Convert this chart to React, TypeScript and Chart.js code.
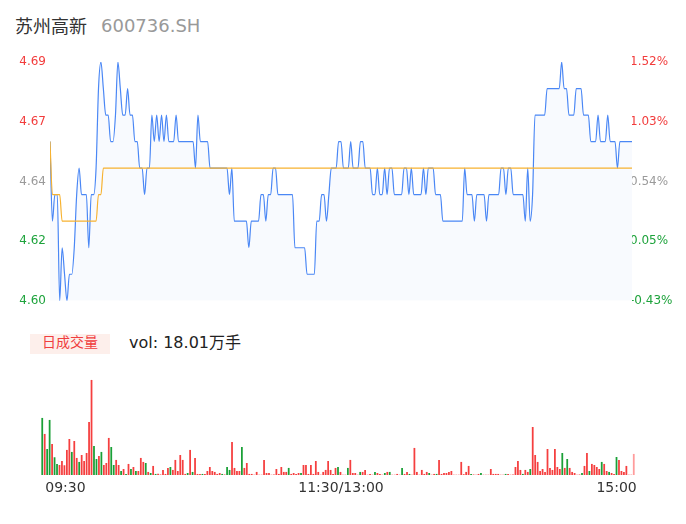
import React, { useEffect, useRef } from 'react';
import { Chart, registerables } from 'chart.js';

Chart.register(...registerables);

// ---------- data ----------
const stockName = '苏州高新';
const stockCode = '600736.SH';
const volTitle = '日成交量';
const volSummary = 'vol: 18.01万手';

const timeLabels = ['09:30', '11:30/13:00', '15:00'];
const timeTickIdx = [0, 120, 240];

const priceTicks = [4.6, 4.6225, 4.645, 4.6675, 4.69];
const priceTickLabels = ['4.60', '4.62', '4.64', '4.67', '4.69'];
const pctTickLabels = ['-0.43%', '0.05%', '0.54%', '1.03%', '1.52%'];

const price = [
  4.66, 4.63, 4.64, 4.64, 4.60, 4.62, 4.61, 4.60, 4.61, 4.61,
  4.62, 4.64, 4.65, 4.64, 4.64, 4.64, 4.62, 4.64, 4.64, 4.65,
  4.68, 4.69, 4.68, 4.67, 4.67, 4.66, 4.66, 4.67, 4.69, 4.68,
  4.67, 4.67, 4.68, 4.67, 4.67, 4.66, 4.66, 4.65, 4.65, 4.64,
  4.65, 4.65, 4.67, 4.66, 4.67, 4.66, 4.67, 4.66, 4.67, 4.66,
  4.66, 4.66, 4.67, 4.66, 4.66, 4.66, 4.66, 4.66, 4.66, 4.66,
  4.65, 4.67, 4.66, 4.66, 4.66, 4.66, 4.65, 4.65, 4.65, 4.65,
  4.65, 4.65, 4.65, 4.65, 4.64, 4.65, 4.63, 4.63, 4.63, 4.63,
  4.63, 4.63, 4.62, 4.63, 4.63, 4.63, 4.63, 4.64, 4.64, 4.63,
  4.64, 4.64, 4.65, 4.65, 4.64, 4.64, 4.64, 4.64, 4.64, 4.64,
  4.64, 4.62, 4.62, 4.62, 4.62, 4.62, 4.61, 4.61, 4.61, 4.61,
  4.63, 4.63, 4.64, 4.64, 4.63, 4.64, 4.65, 4.65, 4.65, 4.66,
  4.66, 4.65, 4.65, 4.65, 4.66, 4.65, 4.65, 4.65, 4.66, 4.66,
  4.65, 4.65, 4.65, 4.64, 4.64, 4.65, 4.64, 4.64, 4.65, 4.64,
  4.65, 4.65, 4.64, 4.64, 4.64, 4.64, 4.65, 4.65, 4.64, 4.65,
  4.64, 4.64, 4.64, 4.64, 4.65, 4.64, 4.65, 4.65, 4.65, 4.64,
  4.64, 4.64, 4.63, 4.63, 4.63, 4.63, 4.63, 4.63, 4.63, 4.63,
  4.63, 4.65, 4.64, 4.64, 4.64, 4.63, 4.64, 4.64, 4.64, 4.64,
  4.63, 4.64, 4.64, 4.64, 4.64, 4.64, 4.65, 4.65, 4.64, 4.65,
  4.65, 4.64, 4.64, 4.64, 4.64, 4.64, 4.63, 4.65, 4.63, 4.64,
  4.67, 4.67, 4.67, 4.67, 4.67, 4.68, 4.68, 4.68, 4.68, 4.68,
  4.68, 4.69, 4.68, 4.68, 4.67, 4.67, 4.67, 4.68, 4.68, 4.68,
  4.67, 4.67, 4.67, 4.66, 4.66, 4.66, 4.67, 4.66, 4.66, 4.66,
  4.67, 4.66, 4.66, 4.66, 4.65, 4.66, 4.66, 4.66, 4.66, 4.66,
  4.66,
];

const avgPrice = [
  4.66, 4.64, 4.64, 4.64, 4.64, 4.63, 4.63, 4.63, 4.63, 4.63,
  4.63, 4.63, 4.63, 4.63, 4.63, 4.63, 4.63, 4.63, 4.63, 4.63,
  4.64, 4.64, 4.65, 4.65, 4.65, 4.65, 4.65, 4.65, 4.65, 4.65,
  4.65, 4.65, 4.65, 4.65, 4.65, 4.65, 4.65, 4.65, 4.65, 4.65,
  4.65, 4.65, 4.65, 4.65, 4.65, 4.65, 4.65, 4.65, 4.65, 4.65,
  4.65, 4.65, 4.65, 4.65, 4.65, 4.65, 4.65, 4.65, 4.65, 4.65,
  4.65, 4.65, 4.65, 4.65, 4.65, 4.65, 4.65, 4.65, 4.65, 4.65,
  4.65, 4.65, 4.65, 4.65, 4.65, 4.65, 4.65, 4.65, 4.65, 4.65,
  4.65, 4.65, 4.65, 4.65, 4.65, 4.65, 4.65, 4.65, 4.65, 4.65,
  4.65, 4.65, 4.65, 4.65, 4.65, 4.65, 4.65, 4.65, 4.65, 4.65,
  4.65, 4.65, 4.65, 4.65, 4.65, 4.65, 4.65, 4.65, 4.65, 4.65,
  4.65, 4.65, 4.65, 4.65, 4.65, 4.65, 4.65, 4.65, 4.65, 4.65,
  4.65, 4.65, 4.65, 4.65, 4.65, 4.65, 4.65, 4.65, 4.65, 4.65,
  4.65, 4.65, 4.65, 4.65, 4.65, 4.65, 4.65, 4.65, 4.65, 4.65,
  4.65, 4.65, 4.65, 4.65, 4.65, 4.65, 4.65, 4.65, 4.65, 4.65,
  4.65, 4.65, 4.65, 4.65, 4.65, 4.65, 4.65, 4.65, 4.65, 4.65,
  4.65, 4.65, 4.65, 4.65, 4.65, 4.65, 4.65, 4.65, 4.65, 4.65,
  4.65, 4.65, 4.65, 4.65, 4.65, 4.65, 4.65, 4.65, 4.65, 4.65,
  4.65, 4.65, 4.65, 4.65, 4.65, 4.65, 4.65, 4.65, 4.65, 4.65,
  4.65, 4.65, 4.65, 4.65, 4.65, 4.65, 4.65, 4.65, 4.65, 4.65,
  4.65, 4.65, 4.65, 4.65, 4.65, 4.65, 4.65, 4.65, 4.65, 4.65,
  4.65, 4.65, 4.65, 4.65, 4.65, 4.65, 4.65, 4.65, 4.65, 4.65,
  4.65, 4.65, 4.65, 4.65, 4.65, 4.65, 4.65, 4.65, 4.65, 4.65,
  4.65, 4.65, 4.65, 4.65, 4.65, 4.65, 4.65, 4.65, 4.65, 4.65,
  4.65,
];

// volume per minute, in 手
const volume = [
  4280, 3080, 1950, 4130, 2330, 1330, 830, 750, 1050, 730,
  1880, 2700, 1730, 2550, 1280, 980, 1500, 1050, 1650, 3980,
  7130, 2180, 1200, 1430, 1730, 750, 900, 2780, 2100, 750,
  1130, 750, 300, 450, 80, 830, 450, 600, 300, 300,
  1280, 980, 900, 230, 150, 680, 80, 100, 40, 380,
  80, 530, 600, 380, 1130, 300, 1500, 1130, 80, 150,
  1880, 230, 1280, 80, 80, 80, 80, 300, 600, 300,
  230, 80, 150, 80, 40, 600, 380, 2480, 530, 300,
  300, 2100, 530, 900, 80, 80, 20, 230, 20, 20,
  1130, 150, 150, 20, 40, 450, 80, 600, 230, 230,
  530, 80, 150, 80, 150, 150, 750, 750, 80, 750,
  80, 1050, 230, 20, 230, 380, 1050, 380, 80, 530,
  600, 230, 20, 20, 530, 1130, 150, 150, 20, 230,
  230, 380, 20, 80, 20, 230, 150, 80, 20, 150,
  230, 230, 20, 20, 80, 20, 530, 80, 230, 80,
  20, 2030, 230, 20, 380, 80, 230, 150, 20, 80,
  80, 1130, 80, 150, 150, 230, 300, 20, 20, 20,
  980, 60, 230, 680, 80, 40, 20, 80, 150, 20,
  20, 20, 450, 80, 80, 80, 20, 20, 80, 80,
  20, 40, 600, 1050, 380, 80, 380, 230, 450, 3600,
  1500, 980, 300, 450, 230, 1950, 530, 380, 1950, 600,
  450, 1650, 530, 1200, 530, 230, 150, 20, 40, 150,
  680, 1650, 300, 830, 750, 600, 450, 980, 830, 300,
  230, 150, 80, 1350, 1130, 300, 230, 680, 20, 20,
  1580,
];

// minutes whose volume bar is drawn green (down) / pale (closing auction)
const greenBars = [
  0, 2, 3, 5, 6, 12, 15, 21, 22, 24, 28, 29, 32, 34, 36, 38, 42, 44, 46, 52,
  59, 61, 65, 73, 75, 76, 81, 100, 105, 120, 124, 129, 135, 139, 141, 146,
  149, 157, 160, 174, 178, 188, 195, 198, 211, 213, 219, 222, 227, 230, 233,
];
const paleBars = [240];

// ---------- styles ----------
const FONT = '"DejaVu Sans", "Noto Sans CJK SC", sans-serif';
const CJK = '"Noto Sans CJK SC", "DejaVu Sans", sans-serif';
const RED = '#f23c3c';
const GREEN = '#1ea33c';
const GRAY = '#9a9a9a';
const tickColors = [GREEN, GREEN, GRAY, RED, RED];
const BLUE = '#4a87f5';
const ORANGE = '#f7b230';
const FILL = 'rgba(70,120,240,0.04)';
const BAR_RED = '#f53f3f';
const BAR_GREEN = '#1aa037';
const BAR_PALE = '#ff9c9c';

export default function App() {
  const priceRef = useRef<HTMLCanvasElement>(null);
  const volRef = useRef<HTMLCanvasElement>(null);

  useEffect(() => {
    const priceChart = new Chart(priceRef.current as HTMLCanvasElement, {
      type: 'line',
      data: {
        datasets: [
          {
            label: 'avg',
            data: avgPrice.map((y, i) => ({ x: i, y })),
            borderColor: ORANGE,
            borderWidth: 1.2,
            pointRadius: 0,
            cubicInterpolationMode: 'monotone',
            fill: false,
          },
          {
            label: 'price',
            data: price.map((y, i) => ({ x: i, y })),
            borderColor: BLUE,
            borderWidth: 1.2,
            pointRadius: 0,
            cubicInterpolationMode: 'monotone',
            fill: 'start',
            backgroundColor: FILL,
          },
        ],
      },
      options: {
        responsive: false,
        animation: false,
        events: [],
        layout: { padding: { top: 62, bottom: 11, left: 0, right: 0 } },
        plugins: { legend: { display: false }, tooltip: { enabled: false } },
        scales: {
          x: { type: 'linear', min: 0, max: 240, display: false },
          y: {
            position: 'left',
            min: 4.6,
            max: 4.69,
            grid: { display: false, drawTicks: false },
            border: { display: false },
            afterBuildTicks: (s: any) => {
              s.ticks = priceTicks.map((v) => ({ value: v }));
            },
            afterFit: (s: any) => {
              s.width = 50;
            },
            ticks: {
              padding: 4,
              font: { size: 12, family: FONT },
              color: (c: any) => tickColors[c.index],
              callback: (_v: any, i: number) => priceTickLabels[i],
            },
          },
          y1: {
            position: 'right',
            min: 4.6,
            max: 4.69,
            grid: { display: false, drawTicks: false },
            border: { display: false },
            afterBuildTicks: (s: any) => {
              s.ticks = priceTicks.map((v) => ({ value: v }));
            },
            afterFit: (s: any) => {
              s.width = 54;
            },
            ticks: {
              padding: -2,
              font: { size: 12, family: FONT },
              color: (c: any) => tickColors[c.index],
              callback: (_v: any, i: number) => pctTickLabels[i],
            },
          },
        },
      },
    } as any);

    const volChart = new Chart(volRef.current as HTMLCanvasElement, {
      type: 'bar',
      data: {
        datasets: [
          {
            data: volume.map((y, i) => ({ x: i, y })),
            backgroundColor: volume.map((_v, i) =>
              paleBars.includes(i) ? BAR_PALE : greenBars.includes(i) ? BAR_GREEN : BAR_RED
            ),
            borderWidth: 0,
            barPercentage: 0.72,
            categoryPercentage: 1,
          },
        ],
      },
      options: {
        responsive: false,
        animation: false,
        events: [],
        layout: { padding: { top: 15, left: 41, right: 51, bottom: 0 } },
        plugins: { legend: { display: false }, tooltip: { enabled: false } },
        scales: {
          x: {
            type: 'linear',
            min: -0.5,
            max: 240.5,
            offset: false,
            grid: { display: false, drawTicks: false },
            border: { display: false },
            afterBuildTicks: (s: any) => {
              s.ticks = timeTickIdx.map((v) => ({ value: v }));
            },
            afterFit: (s: any) => {
              s.height = 34;
            },
            ticks: {
              align: 'inner',
              labelOffset: 3,
              padding: 5,
              maxRotation: 0,
              autoSkip: false,
              font: { size: 14, family: FONT },
              color: '#333',
              callback: (_v: any, i: number) => timeLabels[i],
            },
          },
          y: { display: false, min: 0, max: 7500 },
        },
      },
    } as any);

    return () => {
      priceChart.destroy();
      volChart.destroy();
    };
  }, []);

  return (
    <div
      style={{
        position: 'absolute',
        left: 0,
        top: 0,
        width: 686,
        height: 524,
        background: '#fff',
        overflow: 'hidden',
      }}
    >
      <div
        style={{
          position: 'absolute', left: 15, top: 16, fontFamily: CJK, fontSize: 18,
          lineHeight: '18px', color: '#333', whiteSpace: 'nowrap',
        }}
      >
        {stockName}
      </div>
      <div
        style={{
          position: 'absolute', left: 101, top: 17, fontFamily: FONT, fontSize: 18,
          lineHeight: '18px', color: '#999', whiteSpace: 'nowrap',
        }}
      >
        {stockCode}
      </div>
      <canvas
        ref={priceRef}
        width={686}
        height={312}
        style={{ position: 'absolute', left: 0, top: 0, width: 686, height: 312 }}
      />
      <div
        style={{
          position: 'absolute', left: 30, top: 334, width: 80, height: 20,
          background: '#fdefeb',
        }}
      />
      <div
        style={{
          position: 'absolute', left: 30, top: 331, width: 80, textAlign: 'center',
          fontFamily: CJK, fontSize: 14, lineHeight: '20px', color: '#f03e3e',
          whiteSpace: 'nowrap',
        }}
      >
        {volTitle}
      </div>
      <div
        style={{
          position: 'absolute', left: 129, top: 335, fontFamily: FONT, fontSize: 16,
          lineHeight: '16px', color: '#222', whiteSpace: 'nowrap',
        }}
      >
        {volSummary}
      </div>
      <canvas
        ref={volRef}
        width={686}
        height={149}
        style={{ position: 'absolute', left: 0, top: 360, width: 686, height: 149 }}
      />
    </div>
  );
}
